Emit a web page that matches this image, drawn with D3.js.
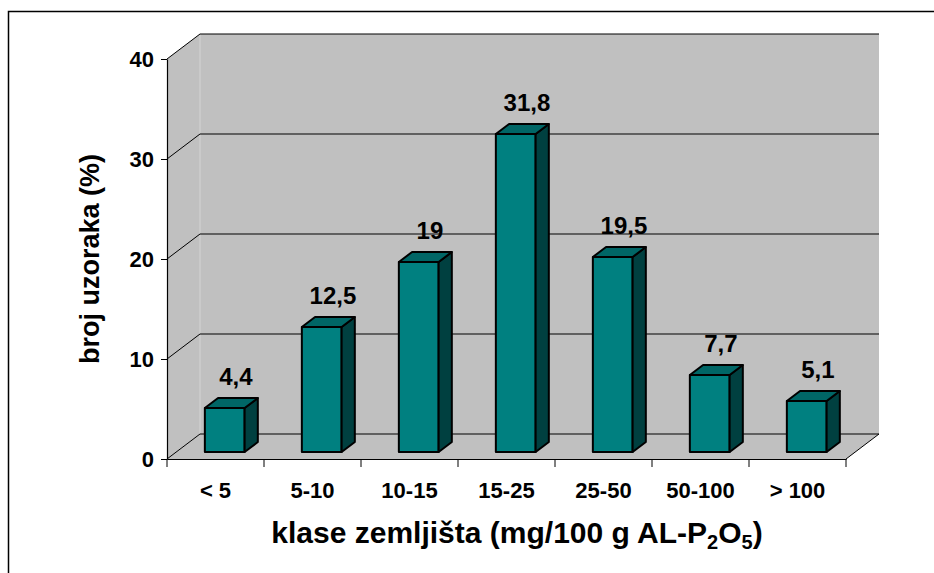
<!DOCTYPE html>
<html>
<head>
<meta charset="utf-8">
<script src="https://cdn.jsdelivr.net/npm/d3@7"></script>
<style>
  body { margin: 0; background: #fff; }
  svg { display: block; }
</style>
</head>
<body>
<script>
let categories = ['< 5', '5-10', '10-15', '15-25', '25-50', '50-100', '> 100'];
let values = [4.4, 12.5, 19, 31.8, 19.5, 7.7, 5.1];
let valueLabels = ['4,4', '12,5', '19', '31,8', '19,5', '7,7', '5,1'];
let yTicks = [0, 10, 20, 30, 40];

let width = 934;
let height = 573;
let font = "'Liberation Sans', Arial, sans-serif";

// front plane of the 3d box
let margins = { left: 167, right: 88, top: 59, bottom: 114 };
// depth of the box
let depth = { dx: 33, dy: -25 };
// bar depth inside the box (fractions of full depth)
let barZ = [0.28, 0.68];

let xScale = d3.scaleBand(categories, [margins.left, width - margins.right])
  .paddingInner(0).paddingOuter(0);
let yScale = d3.scaleLinear([0, 40], [height - margins.bottom, margins.top]);

let barWidth = xScale.bandwidth() * 0.41;

let svg = d3.create('svg')
  .attr('width', width)
  .attr('height', height);

// outer chart border
svg.append('rect')
  .attr('x', 8.5)
  .attr('y', 11.5)
  .attr('width', width + 20)
  .attr('height', height + 20)
  .attr('fill', 'none')
  .attr('stroke', '#000')
  .attr('stroke-width', 1.5);

let x0 = xScale.range()[0];
let x1 = xScale.range()[1];
let yBottom = yScale(0);
let yTop = yScale(40);
let pt = (x, y, z) => [x + depth.dx * z, y + depth.dy * z];
let poly = pts => 'M' + pts.map(p => p.join(',')).join('L') + 'Z';

// back wall
svg.append('path')
  .attr('d', poly([pt(x0, yTop, 1), pt(x1, yTop, 1), pt(x1, yBottom, 1), pt(x0, yBottom, 1)]))
  .attr('fill', '#c0c0c0');

// left wall
svg.append('path')
  .attr('d', poly([pt(x0, yTop, 0), pt(x0, yTop, 1), pt(x0, yBottom, 1), pt(x0, yBottom, 0)]))
  .attr('fill', '#c0c0c0');

// floor
svg.append('path')
  .attr('d', poly([pt(x0, yBottom, 0), pt(x0, yBottom, 1), pt(x1, yBottom, 1), pt(x1, yBottom, 0)]))
  .attr('fill', '#c0c0c0');

// wall edge
svg.append('line')
  .attr('x1', pt(x0, yTop, 1)[0])
  .attr('y1', pt(x0, yTop, 1)[1])
  .attr('x2', pt(x0, yBottom, 1)[0])
  .attr('y2', pt(x0, yBottom, 1)[1])
  .attr('stroke', '#d4d4d4');

// gridlines on left wall and back wall
let grid = svg.append('g')
  .attr('stroke', '#000')
  .attr('fill', 'none');

grid.selectAll('path')
  .data(yTicks)
  .join('path')
  .attr('d', d => 'M' + pt(x0, yScale(d), 0).join(',') +
    'L' + pt(x0, yScale(d), 1).join(',') +
    'L' + pt(x1, yScale(d), 1).join(','));

// floor right edge
grid.append('line')
  .attr('x1', x1)
  .attr('y1', yBottom)
  .attr('x2', pt(x1, yBottom, 1)[0])
  .attr('y2', pt(x1, yBottom, 1)[1]);

// y axis
let yAxis = d3.axisLeft(yScale)
  .tickValues(yTicks)
  .tickSize(6)
  .tickPadding(7)
  .tickSizeOuter(0);

svg.append('g')
  .attr('transform', `translate(${margins.left},0)`)
  .call(yAxis)
  .call(g => g.select('.domain').attr('stroke', '#000').attr('stroke-width', 1.2))
  .call(g => g.selectAll('.tick line').attr('stroke', '#000'))
  .call(g => g.selectAll('.tick text')
    .attr('font-family', font)
    .attr('font-size', 22)
    .attr('font-weight', 'bold')
    .attr('fill', '#000'));

// x axis
let xAxis = d3.axisBottom(xScale)
  .tickSize(0)
  .tickPadding(23)
  .tickSizeOuter(0);

svg.append('g')
  .attr('transform', `translate(0,${yBottom})`)
  .call(xAxis)
  .call(g => g.select('.domain').attr('stroke', '#000').attr('stroke-width', 1.2))
  .call(g => g.selectAll('.tick text')
    .attr('font-family', font)
    .attr('font-size', 22)
    .attr('font-weight', 'bold')
    .attr('fill', '#000'));

// x ticks at category boundaries
let boundaries = categories.map(c => xScale(c)).concat([x1]);
svg.append('g')
  .selectAll('line')
  .data(boundaries)
  .join('line')
  .attr('x1', d => d)
  .attr('x2', d => d)
  .attr('y1', yBottom)
  .attr('y2', yBottom + 8)
  .attr('stroke', '#000');

// bars
let data = categories.map((c, i) => ({ cat: c, value: values[i], label: valueLabels[i] }));

let bars = svg.append('g')
  .attr('stroke', '#000')
  .attr('stroke-width', 2)
  .attr('stroke-linejoin', 'round')
  .selectAll('g')
  .data(data)
  .join('g');

let barLeft = d => xScale(d.cat) + (xScale.bandwidth() - barWidth) / 2;

// front face
bars.append('path')
  .attr('fill', '#008080')
  .attr('d', d => {
    let l = barLeft(d), r = l + barWidth;
    let t = yScale(d.value);
    return poly([pt(l, t, barZ[0]), pt(r, t, barZ[0]), pt(r, yBottom, barZ[0]), pt(l, yBottom, barZ[0])]);
  });

// side face
bars.append('path')
  .attr('fill', '#004040')
  .attr('d', d => {
    let r = barLeft(d) + barWidth;
    let t = yScale(d.value);
    return poly([pt(r, t, barZ[0]), pt(r, t, barZ[1]), pt(r, yBottom, barZ[1]), pt(r, yBottom, barZ[0])]);
  });

// top face
bars.append('path')
  .attr('fill', '#006666')
  .attr('d', d => {
    let l = barLeft(d), r = l + barWidth;
    let t = yScale(d.value);
    return poly([pt(l, t, barZ[0]), pt(l, t, barZ[1]), pt(r, t, barZ[1]), pt(r, t, barZ[0])]);
  });

// value labels
svg.append('g')
  .selectAll('text')
  .data(data)
  .join('text')
  .text(d => d.label)
  .attr('x', d => pt(barLeft(d) + barWidth / 2, 0, barZ[1])[0] - 2)
  .attr('y', d => pt(0, yScale(d.value), barZ[1])[1] - 13)
  .attr('text-anchor', 'middle')
  .attr('font-family', font)
  .attr('font-size', 24)
  .attr('font-weight', 'bold');

// y title
svg.append('text')
  .text('broj uzoraka (%)')
  .attr('transform', `translate(99,${(yTop + yBottom) / 2}) rotate(-90)`)
  .attr('text-anchor', 'middle')
  .attr('font-family', font)
  .attr('font-size', 27)
  .attr('font-weight', 'bold');

// x title with subscripts
let xTitle = svg.append('text')
  .attr('x', 517)
  .attr('y', 543)
  .attr('text-anchor', 'middle')
  .attr('font-family', font)
  .attr('font-size', 30)
  .attr('font-weight', 'bold');
xTitle.append('tspan').text('klase zemljišta (mg/100 g AL-P');
xTitle.append('tspan').text('2').attr('font-size', 20).attr('dy', 6);
xTitle.append('tspan').text('O').attr('dy', -6);
xTitle.append('tspan').text('5').attr('font-size', 20).attr('dy', 6);
xTitle.append('tspan').text(')').attr('dy', -6);

document.body.prepend(svg.node());
</script>
</body>
</html>
